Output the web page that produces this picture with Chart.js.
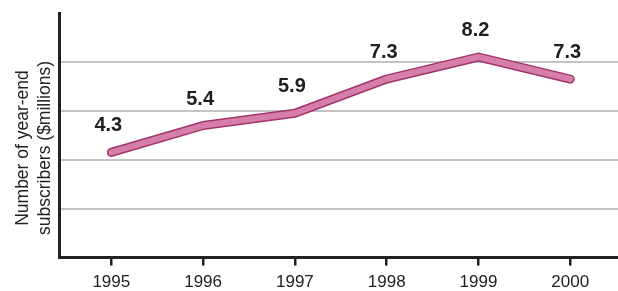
<!DOCTYPE html>
<html>
<head>
<meta charset="utf-8">
<script src="https://cdn.jsdelivr.net/npm/chart.js@4.4.0/dist/chart.umd.min.js"></script>
<style>
  html, body { margin: 0; padding: 0; background: #fff; overflow: hidden; }
  #wrap { width: 618px; height: 291px; position: relative; overflow: hidden; }
  canvas { display: block; }
</style>
</head>
<body>
<div id="wrap"><canvas id="c" width="618" height="300"></canvas></div>
<script>
const years = [1995, 1996, 1997, 1998, 1999, 2000];
const subscribers = [4.3, 5.4, 5.9, 7.3, 8.2, 7.3];
const valueLabels = ['4.3', '5.4', '5.9', '7.3', '8.2', '7.3'];
const yTitle = ['Number of year-end', 'subscribers ($millions)'];
const gridValues = [2, 4, 6, 8];

const points = years.map((y, i) => ({ x: y, y: subscribers[i] }));

const labelPlugin = {
  id: 'labels',
  afterDatasetsDraw(chart) {
    const ctx = chart.ctx;
    const xs = chart.scales.x, ys = chart.scales.y;
    ctx.save();
    ctx.fillStyle = '#1e1e1e';
    ctx.font = 'bold 20px "Liberation Sans", Arial, sans-serif';
    ctx.textAlign = 'center';
    ctx.textBaseline = 'alphabetic';
    years.forEach((yr, i) => {
      const px = xs.getPixelForValue(yr);
      const py = ys.getPixelForValue(subscribers[i]);
      ctx.fillText(valueLabels[i], px - 3, py - 21);
    });
    // y axis title
    ctx.font = '17.5px "Liberation Sans", Arial, sans-serif';
    ctx.fillStyle = '#222';
    ctx.textAlign = 'center';
    ctx.textBaseline = 'middle';
    ctx.translate(0, 148);
    ctx.rotate(-Math.PI / 2);
    ctx.fillText(yTitle[0], 0, 23);
    ctx.fillText(yTitle[1], 0, 45);
    ctx.restore();
  }
};

new Chart(document.getElementById('c'), {
  type: 'line',
  data: {
    datasets: [
      {
        data: points,
        borderColor: '#d67eaa',
        borderWidth: 6,
        borderCapStyle: 'round',
        borderJoinStyle: 'round',
        pointRadius: 0,
        tension: 0,
        order: 1
      },
      {
        data: points,
        borderColor: '#a2346d',
        borderWidth: 9,
        borderCapStyle: 'round',
        borderJoinStyle: 'round',
        pointRadius: 0,
        tension: 0,
        order: 2
      }
    ]
  },
  options: {
    responsive: false,
    animation: false,
    events: [],
    layout: { padding: { left: 59, top: 13, right: 0, bottom: 0 } },
    plugins: { legend: { display: false }, tooltip: { enabled: false } },
    scales: {
      x: {
        type: 'linear',
        min: 1994.43,
        max: 2000.52,
        afterBuildTicks(scale) { scale.ticks = years.map(v => ({ value: v })); },
        ticks: {
          color: '#222',
          padding: 7,
          maxRotation: 0,
          autoSkip: false,
          font: { family: '"Liberation Sans", Arial, sans-serif', size: 17 },
          callback: v => String(v)
        },
        grid: { drawOnChartArea: false, drawTicks: true, tickLength: 8, color: '#222', lineWidth: 2.5 },
        border: { display: true, color: '#222', width: 3 }
      },
      y: {
        min: 0,
        max: 10,
        afterBuildTicks(scale) { scale.ticks = [0].concat(gridValues, [10]).map(v => ({ value: v })); },
        ticks: { display: false },
        grid: {
          drawTicks: false,
          color: ctx => (gridValues.includes(ctx.tick.value) ? '#c4c4c4' : 'rgba(0,0,0,0)'),
          lineWidth: 2
        },
        border: { display: true, color: '#222', width: 3 }
      }
    }
  },
  plugins: [labelPlugin]
});
</script>
</body>
</html>
